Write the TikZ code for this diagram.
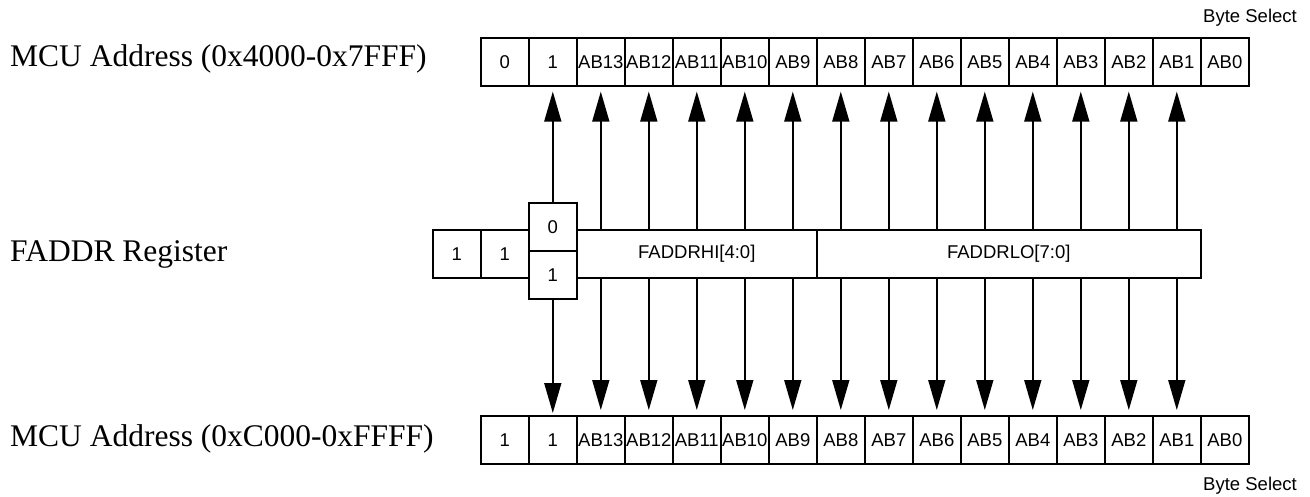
\documentclass[tikz,border=0pt]{standalone}
\usepackage{fontspec}
\setmainfont{Liberation Serif}
\newfontfamily\arialf{Liberation Sans}
\usetikzlibrary{arrows.meta}
\begin{document}
\begin{tikzpicture}[x=1pt,y=-1pt,
  cell/.style={draw, line width=1.6pt, minimum width=48pt, minimum height=48pt,
    inner sep=0pt, font=\arialf\fontsize{18.5}{22}\selectfont, anchor=north west},
  lbl/.style={anchor=base west, inner sep=0pt, font=\fontsize{31.5}{36}\selectfont},
  note/.style={anchor=base east, inner sep=0pt, font=\arialf\fontsize{18.5}{22}\selectfont},
  arr/.style={line width=1.6pt, -{Triangle[length=30pt,width=17pt]}, shorten >=5pt}]
\useasboundingbox (0,0) rectangle (1310,496);
% labels
\node[lbl] (l1) at (10,66.7) {MCU Address (0x4000-0x7FFF)};
\node[lbl] (l2) at (10,261) {FADDR Register};
\node[lbl] (l3) at (10,446.7) {MCU Address (0xC000-0xFFFF)};
\node[note] (bs1) at (1297,22) {Byte Select};
\node[note] (bs2) at (1297,490) {Byte Select};
% top row
\foreach \i/\t in {0/0,1/1,2/AB13,3/AB12,4/AB11,5/AB10,6/AB9,7/AB8,8/AB7,9/AB6,10/AB5,11/AB4,12/AB3,13/AB2,14/AB1,15/AB0}
  \node[cell] (t\i) at (480+48*\i,37) {\t};
% bottom row
\foreach \i/\t in {0/1,1/1,2/AB13,3/AB12,4/AB11,5/AB10,6/AB9,7/AB8,8/AB7,9/AB6,10/AB5,11/AB4,12/AB3,13/AB2,14/AB1,15/AB0}
  \node[cell] (b\i) at (480+48*\i,415) {\t};
% register
\node[cell] (r0) at (432,229) {1};
\node[cell] (r1) at (480,229) {1};
\node[cell] (m0) at (528,202) {0};
\node[cell] (m1) at (528,250) {1};
\node[cell, minimum width=240pt] (hi) at (576,229) {FADDRHI[4:0]};
\node[cell, minimum width=384pt] (lo) at (816,229) {FADDRLO[7:0]};
% arrows
\draw[arr] (m0.north) -- (t1.south);
\draw[arr, shorten >=2pt] (m1.south) -- (b1.north);
\foreach \i in {2,...,6} {
  \draw[arr] (t\i.south |- hi.north) -- (t\i.south);
  \draw[arr] (b\i.north |- hi.south) -- (b\i.north);
}
\foreach \i in {7,...,14} {
  \draw[arr] (t\i.south |- lo.north) -- (t\i.south);
  \draw[arr] (b\i.north |- lo.south) -- (b\i.north);
}
\end{tikzpicture}
\end{document}
